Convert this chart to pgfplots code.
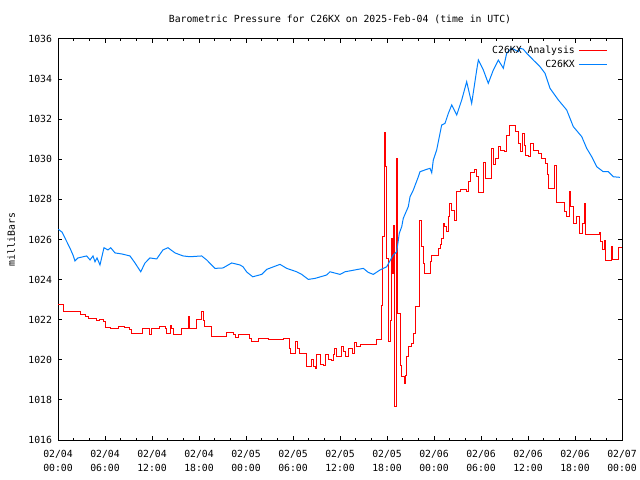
\documentclass[border=0pt]{standalone}
\usepackage{pgfplots}
\pgfplotsset{compat=1.18}
\usepackage{fontspec}
\setmainfont{DejaVu Sans Mono}
\definecolor{gpred}{RGB}{255,0,0}
\definecolor{gpblue}{RGB}{0,128,255}
\begin{document}
\fontsize{9.8bp}{14bp}\selectfont
\begin{tikzpicture}
\useasboundingbox (-58bp,-40bp) rectangle (582bp,440bp);
\begin{axis}[
  at={(0,0)}, anchor=south west,
  scale only axis, width=564bp, height=401bp,
  xmin=0, xmax=72, ymin=1016, ymax=1036,
  xtick={0,6,...,72},
  minor xtick={0,2,...,72},
  xticklabels={{02/04\\00:00},{02/04\\06:00},{02/04\\12:00},{02/04\\18:00},{02/05\\00:00},{02/05\\06:00},{02/05\\12:00},{02/05\\18:00},{02/06\\00:00},{02/06\\06:00},{02/06\\12:00},{02/06\\18:00},{02/07\\00:00}},
  xticklabel style={align=center, font=\fontsize{9.8bp}{14bp}\selectfont, yshift=-7bp},
  ytick={1016,1018,...,1036},
  yticklabel style={font=\fontsize{9.8bp}{14bp}\selectfont, xshift=-2.5bp},
  /pgf/number format/assume math mode=true,
  /pgf/number format/1000 sep={},
  tick align=inside,
  major tick length=4bp, minor tick length=2bp,
  every tick/.style={black, line width=1bp},
  axis line style={line width=1bp, black},
  title={Barometric Pressure for C26KX on 2025-Feb-04 (time in UTC)},
  title style={at={(0.5,1)}, anchor=base, yshift=11bp, font=\fontsize{9.8bp}{14bp}\selectfont},
  ylabel={milliBars},
  ylabel style={at={(axis description cs:-0.083,0.5)}, anchor=center, rotate=0, font=\fontsize{9.8bp}{14bp}\selectfont},
  legend style={draw=none, fill=none, at={(1,1)}, anchor=north east, xshift=-11bp, yshift=-4bp,
    font=\fontsize{9.8bp}{14bp}\selectfont, row sep=3bp, column sep=3bp, nodes={inner sep=1bp}},
  legend plot pos=right,
  legend cell align=right,
  legend image code/.code={\draw[#1] (0bp,0bp) -- (28bp,0bp);},
]
\addplot[const plot, gpred, line width=1bp] coordinates {
(0,1022.77) (0.68,1022.40) (2.81,1022.28) (3.45,1022.15) (3.87,1022.07) (4.94,1021.98)
(5.36,1022.02) (5.78,1021.90) (6.00,1021.62) (6.64,1021.55) (7.70,1021.67) (8.55,1021.60)
(9.19,1021.49) (9.41,1021.32) (10.76,1021.57) (11.74,1021.27) (11.96,1021.57) (13.02,1021.65)
(13.66,1021.57) (13.88,1021.32) (14.30,1021.73) (14.51,1021.57) (14.72,1021.27) (15.79,1021.57)
(16.63,1022.18) (16.85,1021.57) (17.71,1022.02) (18.34,1022.40) (18.55,1021.98) (18.64,1021.68)
(19.62,1021.15) (21.54,1021.35) (22.38,1021.27) (22.60,1021.12) (23.02,1021.27) (24.51,1021.07)
(24.73,1020.90) (25.57,1021.07) (26.85,1021.02) (28.76,1021.05) (29.53,1020.57) (29.62,1020.32)
(30.38,1020.90) (30.60,1020.57) (30.89,1020.32) (31.66,1020.07) (31.75,1019.65) (32.39,1019.99)
(32.59,1019.65) (32.81,1019.57) (33.02,1020.24) (33.54,1019.79) (33.87,1019.74) (34.09,1020.24)
(34.51,1020.02) (34.94,1019.95) (35.14,1020.24) (35.36,1020.57) (35.58,1020.15) (36.22,1020.65)
(36.51,1020.40) (36.73,1020.15) (37.06,1020.57) (37.62,1020.32) (37.79,1020.85) (38.13,1020.65)
(38.64,1020.77) (40.69,1021.02) (41.32,1022.73) (41.45,1026.14) (41.62,1029.55) (41.74,1031.33)
(41.87,1029.63) (41.96,1025.06) (42.17,1020.90) (42.47,1021.98) (42.60,1026.06) (42.73,1024.31)
(42.80,1026.72) (42.93,1017.66) (43.24,1030.05) (43.36,1022.32) (43.66,1019.74) (43.88,1019.16)
(44.21,1018.83) (44.39,1019.24) (44.52,1020.15) (44.72,1020.65) (45.15,1020.79) (45.36,1021.32)
(45.58,1022.65) (46.12,1024.64) (46.21,1026.97) (46.34,1025.64) (46.63,1024.81) (46.85,1024.28)
(47.49,1024.89) (47.71,1025.18) (48.55,1025.56) (48.77,1025.73) (48.98,1026.06) (49.19,1026.81)
(49.40,1026.64) (49.62,1026.39) (49.83,1027.14) (49.96,1027.80) (50.26,1027.47) (50.59,1026.97)
(50.90,1028.39) (51.32,1028.50) (52.17,1028.37) (52.39,1028.88) (52.60,1029.33) (53.23,1029.50)
(53.45,1029.13) (53.66,1028.33) (54.30,1029.83) (54.51,1029.05) (55.37,1030.55) (55.57,1029.72)
(55.79,1030.05) (56.21,1030.63) (56.43,1030.46) (57.06,1030.38) (57.28,1031.21) (57.62,1031.71)
(58.38,1031.38) (58.80,1030.80) (59.02,1030.38) (59.32,1031.30) (59.49,1030.71) (59.71,1030.21)
(60.04,1030.13) (60.35,1030.80) (60.68,1030.46) (61.32,1030.30) (61.75,1030.05) (62.17,1029.80)
(62.46,1029.22) (62.59,1028.55) (63.36,1029.67) (63.66,1027.83) (64.72,1027.39) (64.94,1027.14)
(65.27,1028.39) (65.45,1027.64) (65.87,1026.81) (66.22,1027.14) (66.55,1026.31) (66.98,1026.81)
(67.15,1027.80) (67.37,1026.27) (69.10,1026.34) (69.28,1025.89) (69.49,1025.51) (69.74,1025.94)
(69.92,1024.94) (70.60,1025.67) (70.81,1024.98) (71.53,1025.61) (72.0,1025.61)
};
\addlegendentry{C26KX Analysis}
\addplot[sharp plot, gpblue, line width=1bp] coordinates {
(0.04,1026.51) (0.51,1026.37) (1.02,1025.97) (1.53,1025.57) (1.91,1025.23) (2.17,1024.93)
(2.55,1025.08) (3.66,1025.18) (4.09,1024.98) (4.47,1025.18) (4.72,1024.89) (4.98,1025.08)
(5.36,1024.73) (5.87,1025.59) (6.38,1025.48) (6.73,1025.59) (7.28,1025.33) (8.13,1025.28)
(9.19,1025.18) (9.83,1024.83) (10.56,1024.39) (11.11,1024.83) (11.74,1025.08) (12.60,1025.03)
(13.40,1025.48) (14.04,1025.59) (14.94,1025.33) (15.96,1025.18) (16.85,1025.14) (18.34,1025.18)
(18.98,1024.98) (20.04,1024.56) (21.06,1024.58) (22.17,1024.83) (23.23,1024.73) (23.62,1024.64)
(24.09,1024.38) (24.86,1024.14) (26.00,1024.26) (26.64,1024.51) (28.34,1024.76) (29.20,1024.56)
(30.47,1024.39) (31.11,1024.26) (31.95,1024.01) (32.81,1024.06) (34.30,1024.23) (34.72,1024.39)
(36.00,1024.26) (36.64,1024.39) (38.98,1024.56) (39.61,1024.36) (40.25,1024.26) (41.11,1024.48)
(41.96,1024.64) (42.80,1025.23) (43.24,1025.39) (43.57,1026.31) (43.88,1026.64) (44.08,1027.06)
(44.72,1027.64) (44.94,1028.13) (45.36,1028.47) (46.00,1029.13) (46.21,1029.38) (47.07,1029.50)
(47.49,1029.55) (47.71,1029.33) (47.91,1029.96) (48.34,1030.46) (48.77,1031.30) (48.98,1031.71)
(49.40,1031.79) (49.83,1032.29) (50.26,1032.71) (50.90,1032.21) (51.54,1032.96) (52.17,1033.87)
(52.81,1032.79) (53.45,1034.45) (53.66,1034.95) (54.30,1034.45) (54.93,1033.79) (55.57,1034.45)
(56.21,1034.95) (56.85,1034.54) (57.28,1035.29) (57.92,1035.54) (58.76,1035.37) (58.98,1035.54)
(59.40,1035.49) (59.83,1035.29) (60.68,1034.95) (61.53,1034.62) (62.17,1034.29) (62.81,1033.54)
(63.87,1032.96) (64.94,1032.46) (65.78,1031.63) (66.86,1031.13) (67.49,1030.55) (68.13,1030.13)
(68.77,1029.63) (69.61,1029.38) (70.25,1029.38) (70.89,1029.13) (71.74,1029.10)
};
\addlegendentry{C26KX}
\end{axis}
\end{tikzpicture}
\end{document}
